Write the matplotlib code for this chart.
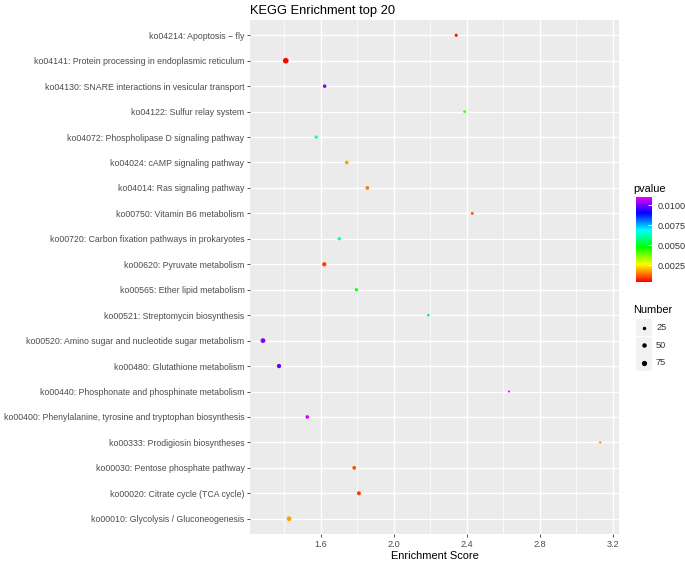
import numpy as np
import matplotlib
matplotlib.use("Agg")
import matplotlib.pyplot as plt
from matplotlib.colors import ListedColormap, Normalize
from matplotlib.patches import Rectangle

plt.rcParams['font.family'] = ['Liberation Sans', 'DejaVu Sans']

terms = [
    "ko04214: Apoptosis \u2212 fly",
    "ko04141: Protein processing in endoplasmic reticulum",
    "ko04130: SNARE interactions in vesicular transport",
    "ko04122: Sulfur relay system",
    "ko04072: Phospholipase D signaling pathway",
    "ko04024: cAMP signaling pathway",
    "ko04014: Ras signaling pathway",
    "ko00750: Vitamin B6 metabolism",
    "ko00720: Carbon fixation pathways in prokaryotes",
    "ko00620: Pyruvate metabolism",
    "ko00565: Ether lipid metabolism",
    "ko00521: Streptomycin biosynthesis",
    "ko00520: Amino sugar and nucleotide sugar metabolism",
    "ko00480: Glutathione metabolism",
    "ko00440: Phosphonate and phosphinate metabolism",
    "ko00400: Phenylalanine, tyrosine and tryptophan biosynthesis",
    "ko00333: Prodigiosin biosyntheses",
    "ko00030: Pentose phosphate pathway",
    "ko00020: Citrate cycle (TCA cycle)",
    "ko00010: Glycolysis / Gluconeogenesis",
]
score = [2.341, 1.407, 1.620, 2.387, 1.574, 1.741, 1.854, 2.429, 1.700, 1.618,
         1.794, 2.188, 1.282, 1.370, 2.630, 1.525, 3.130, 1.782, 1.808, 1.425]
pvalue = [0.0006, 0.0004, 0.0101, 0.0042, 0.0064, 0.0018, 0.0015, 0.0012, 0.0059, 0.0010,
          0.0050, 0.0056, 0.0102, 0.0099, 0.0110, 0.0108, 0.0016, 0.0011, 0.0009, 0.0018]
number = [18, 90, 25, 12, 22, 28, 30, 15, 20, 45,
          20, 10, 60, 45, 4, 28, 5, 30, 35, 55]
size_breaks = [25, 50, 75]
p_ticks = [0.0025, 0.0050, 0.0075, 0.0100]


def msize(n):
    # marker area in pt^2 from gene count
    d_px = 1.1 + 0.48 * np.sqrt(np.asarray(n, dtype=float))
    return (d_px * 0.72) ** 2


cmap = ListedColormap(plt.cm.hsv(np.linspace(0, 0.83, 256)))
norm = Normalize(vmin=0.0004, vmax=0.0110)

fig = plt.figure(figsize=(6.85, 5.61), dpi=100)
ax = fig.add_axes([250 / 685, 1 - 534 / 561, 369 / 685, 514 / 561])
ax.set_facecolor('#EBEBEB')
for s in ax.spines.values():
    s.set_visible(False)

y = np.arange(len(terms))
ax.scatter(score, y, s=msize(number), c=pvalue, cmap=cmap, norm=norm,
           linewidths=0, zorder=3)

ax.set_xlim(1.211, 3.233)
ax.set_ylim(len(terms) - 0.4, -0.6)
ax.set_xticks([1.6, 2.0, 2.4, 2.8, 3.2])
ax.set_xticks([1.4, 1.8, 2.2, 2.6, 3.0], minor=True)
ax.set_yticks(y)
ax.set_yticklabels(terms)
ax.grid(True, which='major', color='white', linewidth=1.0, zorder=0)
ax.grid(True, which='minor', axis='x', color='white', linewidth=0.5, zorder=0)
ax.set_axisbelow(True)
ax.tick_params(axis='y', which='major', labelsize=6.3)
ax.tick_params(axis='x', which='major', labelsize=6.6)
ax.tick_params(axis='both', which='major', labelcolor='#4D4D4D',
               color='#333333', length=2.5, width=0.6, pad=1.5)
ax.tick_params(axis='x', which='minor', length=0)
ax.set_xlabel('Enrichment Score', fontsize=7.9, labelpad=2)
ax.set_title('KEGG Enrichment top 20', fontsize=9.3, loc='left', pad=4)

# colour bar for pvalue
cax = fig.add_axes([636 / 685, 1 - 282 / 561, 16 / 685, 85 / 561])
sm = plt.cm.ScalarMappable(norm=norm, cmap=cmap)
cb = fig.colorbar(sm, cax=cax, ticks=p_ticks)
cb.outline.set_visible(False)
cb.ax.set_yticklabels(['%.4f' % t for t in p_ticks])
cb.ax.tick_params(labelsize=6.6, labelcolor='#333333', color='white',
                  direction='in', length=3, width=0.6, pad=4)
fig.text(633 / 685, 1 - 189 / 561, 'pvalue', fontsize=7.9, va='center', ha='left')

# size legend for Number
fig.text(633 / 685, 1 - 310 / 561, 'Number', fontsize=7.9, va='center', ha='left')
lax = fig.add_axes([636 / 685, 1 - 371 / 561, 49 / 685, 52 / 561])
lax.set_xlim(0, 49)
lax.set_ylim(52, 0)
lax.axis('off')
for i, b in enumerate(size_breaks):
    yc = 8.5 + i * 17.5
    lax.add_patch(Rectangle((0, yc - 8.5), 16, 17, facecolor='#F2F2F2',
                            edgecolor='none'))
    lax.scatter([8], [yc], s=msize(b), color='black', linewidths=0)
    lax.text(20, yc, str(b), fontsize=6.6, va='center', color='#333333')

fig.savefig('out.png', dpi=100)
